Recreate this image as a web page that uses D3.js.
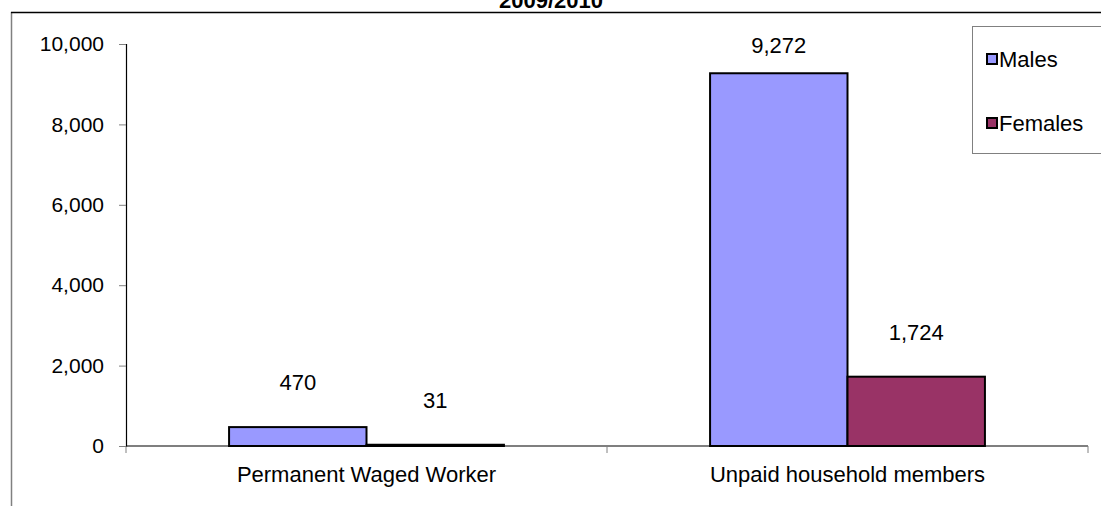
<!DOCTYPE html>
<html>
<head>
<meta charset="utf-8">
<script src="https://cdn.jsdelivr.net/npm/d3@7"></script>
<style>
  html, body { margin: 0; padding: 0; background: #fff; }
  svg { display: block; font-family: "Liberation Sans", Arial, sans-serif; }
</style>
</head>
<body>
<svg id="chart" width="1101" height="506"></svg>
<script>
const title = "2009/2010";
const categories = ["Permanent Waged Worker", "Unpaid household members"];
const seriesNames = ["Males", "Females"];
const males = [470, 9272];
const females = [31, 1724];
const yTicks = [0, 2000, 4000, 6000, 8000, 10000];
const colors = ["#9999FF", "#993366"];

const svg = d3.select("#chart");
const W = 1101, H = 506;
const plot = { left: 126, right: 1088, top: 44, bottom: 446 };
const FS = 22;

// outer frame (partially visible)
svg.append("line").attr("x1", 11.5).attr("x2", 11.5).attr("y1", 12).attr("y2", H)
  .attr("stroke", "#808080").attr("stroke-width", 1.5);
svg.append("line").attr("x1", 11).attr("x2", W).attr("y1", 12.5).attr("y2", 12.5)
  .attr("stroke", "#000").attr("stroke-width", 1.5);

// title (cut off at top, as in the reference)
svg.append("text").attr("x", 551).attr("y", 8).attr("text-anchor", "middle")
  .attr("font-size", FS).attr("font-weight", "bold").text(title);

const x = d3.scaleBand().domain(categories).range([plot.left, plot.right]);
const xs = d3.scaleBand().domain(seriesNames).range([0, x.bandwidth()]).paddingInner(0).paddingOuter(0.75);
const y = d3.scaleLinear().domain([0, 10000]).range([plot.bottom, plot.top]);

// y axis
const yAxis = d3.axisLeft(y).tickValues(yTicks).tickSize(7).tickPadding(15)
  .tickFormat(d3.format(","));
const gy = svg.append("g").attr("transform", `translate(${plot.left},0)`).call(yAxis);
gy.select(".domain").attr("stroke", "#000").attr("stroke-width", 1.2);
gy.selectAll(".tick line").attr("stroke", "#808080");
gy.selectAll(".tick text").attr("font-size", 21).attr("fill", "#000")
  .attr("font-family", "'Liberation Sans', Arial, sans-serif");

// bars
const data = [];
categories.forEach((c, i) => {
  data.push({ cat: c, series: "Males", value: males[i], color: colors[0] });
  data.push({ cat: c, series: "Females", value: females[i], color: colors[1] });
});

svg.append("g").selectAll("rect").data(data).join("rect")
  .attr("x", d => x(d.cat) + xs(d.series))
  .attr("y", d => y(d.value))
  .attr("width", xs.bandwidth())
  .attr("height", d => y(0) - y(d.value))
  .attr("fill", d => d.color)
  .attr("stroke", "#000").attr("stroke-width", 2);

// x axis
const gx = svg.append("g").attr("transform", `translate(0,${plot.bottom})`);
gx.append("line").attr("x1", plot.left).attr("x2", plot.right).attr("y1", 0).attr("y2", 0)
  .attr("stroke", "#000").attr("stroke-width", 1.2);
const boundaries = [plot.left, ...categories.map(c => x(c) + x.bandwidth())];
gx.selectAll("line.tk").data(boundaries).join("line").attr("class", "tk")
  .attr("x1", d => d).attr("x2", d => d).attr("y1", 0).attr("y2", 7)
  .attr("stroke", "#808080");
gx.selectAll("text").data(categories).join("text")
  .attr("x", d => x(d) + x.bandwidth() / 2).attr("y", 36)
  .attr("text-anchor", "middle").attr("font-size", FS).text(d => d);

// data labels
svg.append("g").selectAll("text").data(data).join("text")
  .attr("x", d => x(d.cat) + xs(d.series) + xs.bandwidth() / 2)
  .attr("y", d => Math.max(y(d.value) - 37, 53))
  .attr("text-anchor", "middle").attr("font-size", FS)
  .text(d => d3.format(",")(d.value));

// legend
const lg = svg.append("g");
lg.append("rect").attr("x", 972.5).attr("y", 26.5).attr("width", 140).attr("height", 127)
  .attr("fill", "#fff").attr("stroke", "#808080").attr("stroke-width", 1);
seriesNames.forEach((s, i) => {
  const cy = 59 + i * 64;
  lg.append("rect").attr("x", 987).attr("y", cy - 5).attr("width", 10).attr("height", 10)
    .attr("fill", colors[i]).attr("stroke", "#000").attr("stroke-width", 2);
  lg.append("text").attr("x", 999).attr("y", cy + 8).attr("font-size", FS).text(s);
});
</script>
</body>
</html>
